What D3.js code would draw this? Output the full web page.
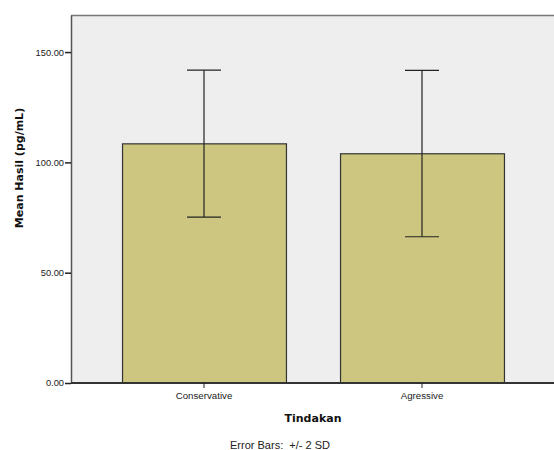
<!DOCTYPE html>
<html><head><meta charset="utf-8">
<script src="https://cdn.jsdelivr.net/npm/d3@7"></script>
<style>body{margin:0;background:#fff}svg{display:block}</style>
</head><body>
<svg id="c" width="554" height="450"></svg>
<script>
const categories = ["Conservative", "Agressive"];
const means = [108.4, 103.9];
const errLow = [75.2, 66.3];
const errHigh = [141.8, 141.7];
const yTicks = [0, 50, 100, 150];

const svg = d3.select("#c");
const L = 71, T = 15, R = 556, B = 383;
const y = d3.scaleLinear().domain([0, 166.8]).range([B, T]);
const x = d3.scaleBand().domain(categories).range([95, 531]).paddingInner(0.248).paddingOuter(0.124);
const sans = "'Liberation Sans', Arial, sans-serif";
const bold = "'DejaVu Sans', sans-serif";

svg.append("rect").attr("x", L).attr("y", T).attr("width", R - L).attr("height", B - T).attr("fill", "#eeeeee");
svg.append("line").attr("x1", L).attr("x2", R).attr("y1", T + 0.5).attr("y2", T + 0.5).attr("stroke", "#777").attr("stroke-width", 1.5);

svg.selectAll(".bar").data(categories).enter().append("rect")
  .attr("x", d => x(d) + 0.5).attr("y", (d, i) => y(means[i]))
  .attr("width", x.bandwidth()).attr("height", (d, i) => B - y(means[i]))
  .attr("fill", "#cdc680").attr("stroke", "#333").attr("stroke-width", 1.2);

const eb = svg.selectAll(".eb").data(categories).enter().append("g").attr("stroke", "#222").attr("stroke-width", 1.2);
eb.append("line").attr("x1", d => x(d) + x.bandwidth() / 2).attr("x2", d => x(d) + x.bandwidth() / 2)
  .attr("y1", (d, i) => y(errHigh[i])).attr("y2", (d, i) => y(errLow[i]));
eb.append("line").attr("x1", d => x(d) + x.bandwidth() / 2 - 17).attr("x2", d => x(d) + x.bandwidth() / 2 + 17)
  .attr("y1", (d, i) => y(errHigh[i])).attr("y2", (d, i) => y(errHigh[i]));
eb.append("line").attr("x1", d => x(d) + x.bandwidth() / 2 - 17).attr("x2", d => x(d) + x.bandwidth() / 2 + 17)
  .attr("y1", (d, i) => y(errLow[i])).attr("y2", (d, i) => y(errLow[i]));

const yAxis = svg.append("g").attr("transform", `translate(${L},0)`)
  .call(d3.axisLeft(y).tickValues(yTicks).tickFormat(d3.format(".2f")).tickSize(6).tickSizeOuter(0).tickPadding(1));
yAxis.select(".domain").attr("stroke", "#555").attr("stroke-width", 1.5);
yAxis.selectAll(".tick line").attr("stroke", "#222").attr("stroke-width", 1.5);
yAxis.selectAll("text").style("font-size", "9.3px").style("font-family", sans).attr("fill", "#222");

const xAxis = svg.append("g").attr("transform", `translate(0,${B})`)
  .call(d3.axisBottom(x).tickSize(5).tickSizeOuter(0).tickPadding(4));
xAxis.select(".domain").attr("stroke", "#333").attr("stroke-width", 2).attr("d", `M${L},0H${R}`);
xAxis.selectAll(".tick line").attr("stroke", "#222");
xAxis.selectAll("text").style("font-size", "9.7px").style("font-family", sans).attr("fill", "#222");

svg.append("text").attr("transform", "translate(23,168) rotate(-90)").attr("text-anchor", "middle")
  .style("font-family", bold).style("font-size", "11px").style("font-weight", "bold").attr("fill", "#111").text("Mean Hasil (pg/mL)");
svg.append("text").attr("x", 313).attr("y", 422).attr("text-anchor", "middle")
  .style("font-family", bold).style("font-size", "11px").style("font-weight", "bold").attr("fill", "#111").text("Tindakan");
svg.append("text").attr("x", 280).attr("y", 449).attr("text-anchor", "middle").style("white-space", "pre")
  .style("font-family", sans).style("font-size", "11px").attr("fill", "#222").text("Error Bars:  +/- 2 SD");
</script>
</body></html>
